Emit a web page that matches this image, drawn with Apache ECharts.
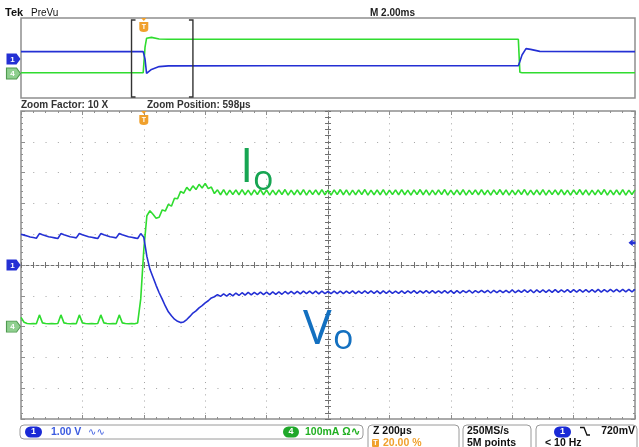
<!DOCTYPE html>
<html><head><meta charset="utf-8">
<script src="https://cdn.jsdelivr.net/npm/echarts@6/dist/echarts.min.js"></script>
<style>html,body{margin:0;padding:0;background:#fff}#c{width:639px;height:447px}</style>
</head><body><div id="c"></div>
<script>
// ---------- DATA ----------
// Zoom window: samples every 10 µs, starting 400 µs before the trigger
const mainStartUs = -400;
const mainStepUs = 10;
// Channel 1 (Vo), volts, 1.00 V/div
const ch1Volts = [
  1.00,0.97,0.94,0.91,0.89,0.87,1.02,0.98,0.95,0.92,
  0.90,0.88,0.86,1.02,0.98,0.95,0.92,0.90,0.88,1.02,
  0.98,0.95,0.92,0.90,0.88,0.86,1.02,0.98,0.95,0.92,
  0.90,0.88,1.02,0.98,0.95,0.92,0.90,0.88,0.86,1.02,
  0.90,0.28,-0.14,-0.40,-0.66,-0.90,-1.11,-1.33,-1.52,-1.65,
  -1.76,-1.83,-1.87,-1.85,-1.77,-1.67,-1.56,-1.49,-1.39,-1.32,
  -1.23,-1.16,-1.07,-1.03,
  -0.96,-1.02,-0.94,-1.01,-0.93,-1.00,-0.91,-0.99,-0.90,-0.98,
  -0.89,-0.97,-0.89,-0.96,-0.88,-0.96,-0.88,-0.96,-0.87,-0.95,
  -0.87,-0.95,-0.86,-0.94,-0.86,-0.94,-0.86,-0.94,-0.85,-0.93,
  -0.85,-0.93,-0.85,-0.94,-0.85,-0.93,-0.86,-0.93,-0.85,-0.93,
  -0.85,-0.93,-0.85,-0.92,-0.84,-0.93,-0.85,-0.92,-0.84,-0.92,
  -0.84,-0.92,-0.84,-0.93,-0.84,-0.92,-0.84,-0.92,-0.85,-0.92,
  -0.84,-0.92,-0.84,-0.91,-0.83,-0.92,-0.84,-0.91,-0.83,-0.91,
  -0.83,-0.91,-0.84,-0.91,-0.83,-0.91,-0.83,-0.92,-0.83,-0.91,
  -0.83,-0.90,-0.82,-0.91,-0.83,-0.90,-0.82,-0.90,-0.82,-0.91,
  -0.82,-0.90,-0.82,-0.90,-0.82,-0.90,-0.81,-0.90,-0.82,-0.89,
  -0.81,-0.89,-0.81,-0.90,-0.81,-0.89,-0.81,-0.89,-0.81,-0.89,
  -0.80,-0.89,-0.81,-0.88,-0.80,-0.89,-0.80,-0.88,-0.80,-0.88,
  -0.80,-0.88,-0.80,-0.88,-0.79,-0.88,-0.80,-0.87,-0.79,-0.87,
  -0.79,-0.87,-0.79,-0.87,-0.79,-0.87,-0.79
];
// Channel 4 (Io), milliamps, 100 mA/div
const ch4MilliAmps = [
  30,14,10,9,10,9,38,12,10,9,
  10,9,10,38,12,10,9,10,9,38,
  12,10,9,10,9,10,38,12,10,9,
  10,9,38,12,10,9,10,9,12,90,
  250,360,376,365,352,355,379,375,397,391,
  417,415,439,433,452,441,457,445,462,450,
  465,448,453,432,
  444,428,445,427,443,429,444,428,445,428,
  443,427,444,429,445,428,444,427,443,428,
  444,429,445,427,443,428,444,428,445,427,
  443,429,444,428,445,428,443,427,444,429,
  445,428,444,427,443,428,444,429,445,427,
  443,428,444,428,445,427,443,429,444,428,
  445,428,443,427,444,429,445,428,444,427,
  443,428,444,429,445,427,443,428,444,428,
  445,427,443,429,444,428,445,428,443,427,
  444,429,445,428,444,427,443,428,444,429,
  445,427,443,428,444,428,445,427,443,429,
  444,428,445,428,443,427,444,429,445,428,
  444,427,443,428,444,429,445,427,443,428,
  444,428,445,427,443,429,444
];
// Preview (whole record, 2.00 ms/div)
const previewTimeMs = [-4.0,-3.0,-2.0,-1.0,-0.02,0.04,0.09,0.13,0.25,0.5,0.8,4.0,8.0,12.2,12.25,12.32,12.45,12.6,12.9,16.0];
const previewCh1Volts = [0.92,0.92,0.92,0.92,0.92,0.0,-1.8,-1.9,-1.3,-0.95,-0.86,-0.85,-0.84,-0.84,-0.3,0.5,1.3,1.2,0.95,0.92];
const previewCh4MilliAmps = [10,10,10,10,10,330,440,448,452,432,428,428,428,428,15,10,10,10,10,10];
const zoomWindowMs = [-0.4, 1.6];
const triggerLevelV = 0.72;

// ---------- CHART ----------
const BLUE = '#2430d4', GREEN = '#2fdc2f', ORANGE = '#f0a02c', FRAME = '#8e8e8e', DOT = '#a3a3a3';
const mainBlue = ch1Volts.map((v, i) => [mainStartUs + i * mainStepUs, v]);
const mainGreen = ch4MilliAmps.map((v, i) => [mainStartUs + i * mainStepUs, v]);
const prevBlue = previewTimeMs.map((t, i) => [t, previewCh1Volts[i]]);
const prevGreen = previewTimeMs.map((t, i) => [t, previewCh4MilliAmps[i]]);

const chanSym = 'path://M0,0 L10,0 L14,5 L10,10 L0,10 Z';
const trigSym = 'path://M2,0 L8,0 L5,3 Z M0,4 L10,4 L10,11 Q10,14 5,14 Q0,14 0,11 Z';
const lvlSym = 'path://M0,5 L6,0 L6,3 L10,3 L10,7 L6,7 L6,10 Z';
function chanMark(coord, txt, fill, stroke) {
  return { coord, symbol: chanSym, symbolSize: [14, 11], symbolOffset: [-7.5, 0],
    itemStyle: { color: fill, borderColor: stroke, borderWidth: stroke ? 1 : 0 },
    label: { show: true, formatter: txt, color: '#fff', fontSize: 8, fontWeight: 'bold', offset: [-1, 0.5] } };
}
function trigMark(coord) {
  return { coord, symbol: trigSym, symbolSize: [9, 14], symbolOffset: [0, 7],
    itemStyle: { color: ORANGE },
    label: { show: true, formatter: 'T', color: '#fff', fontSize: 7, fontWeight: 'bold', offset: [0, 2.5] } };
}
const tickStyle = { color: FRAME, width: 1 };
function gratAxis(extra) {
  return Object.assign({ gridIndex: 1, type: 'value', min: -5, max: 5, interval: 1,
    axisLabel: { show: false }, splitLine: { show: false } }, extra);
}

const option = {
  animation: false,
  backgroundColor: '#fff',
  grid: [
    { left: 21, top: 18, width: 614, height: 80, show: true, borderColor: FRAME, borderWidth: 1.5 },
    { left: 21, top: 111, width: 614, height: 308, show: true, borderColor: FRAME, borderWidth: 1.5 }
  ],
  xAxis: [
    { gridIndex: 0, type: 'value', min: -4, max: 16, show: false },
    { gridIndex: 1, type: 'value', min: -400, max: 1600, interval: 200, show: false },
    gratAxis({ position: 'bottom', axisLine: { show: false, onZero: false },
      axisTick: { show: true, inside: true, length: 4, lineStyle: tickStyle },
      minorTick: { show: true, splitNumber: 5, length: 2, lineStyle: tickStyle },
      splitLine: { show: true, lineStyle: { color: DOT, width: 1, type: [1, 5.16] } } }),
    gratAxis({ position: 'top', axisLine: { show: false, onZero: false },
      axisTick: { show: true, inside: true, length: 4, lineStyle: tickStyle },
      minorTick: { show: true, splitNumber: 5, length: 2, lineStyle: tickStyle } }),
    gratAxis({ position: 'bottom', axisLine: { show: true, onZero: true, onZeroAxisIndex: 4, lineStyle: { color: '#707070', width: 1, type: [3, 2] } },
      axisTick: { show: true, inside: true, length: 3, lineStyle: { color: '#707070' } },
      minorTick: { show: true, splitNumber: 5, length: 3, lineStyle: { color: '#707070' } } }),
    gratAxis({ position: 'bottom', axisLine: { show: false, onZero: true, onZeroAxisIndex: 4 },
      axisTick: { show: true, inside: false, length: 3, lineStyle: { color: '#707070' } },
      minorTick: { show: true, splitNumber: 5, length: 3, lineStyle: { color: '#707070' } } })
  ],
  yAxis: [
    { gridIndex: 0, type: 'value', min: -4.875, max: 5.125, show: false },
    { gridIndex: 0, type: 'value', min: -306, max: 694, show: false },
    { gridIndex: 1, type: 'value', min: -5, max: 5, show: false },
    { gridIndex: 1, type: 'value', min: -300, max: 700, show: false },
    gratAxis({ position: 'left', axisLine: { show: false, onZero: false },
      axisTick: { show: true, inside: true, length: 4, lineStyle: tickStyle },
      minorTick: { show: true, splitNumber: 5, length: 2, lineStyle: tickStyle },
      splitLine: { show: true, lineStyle: { color: DOT, width: 1, type: [1, 11.28] } } }),
    gratAxis({ position: 'right', axisLine: { show: false, onZero: false },
      axisTick: { show: true, inside: true, length: 4, lineStyle: tickStyle },
      minorTick: { show: true, splitNumber: 5, length: 2, lineStyle: tickStyle } }),
    gratAxis({ position: 'left', axisLine: { show: true, onZero: true, onZeroAxisIndex: 2, lineStyle: { color: '#707070', width: 1, type: [3, 2] } },
      axisTick: { show: true, inside: true, length: 3, lineStyle: { color: '#707070' } },
      minorTick: { show: true, splitNumber: 5, length: 3, lineStyle: { color: '#707070' } } }),
    gratAxis({ position: 'left', axisLine: { show: false, onZero: true, onZeroAxisIndex: 2 },
      axisTick: { show: true, inside: false, length: 3, lineStyle: { color: '#707070' } },
      minorTick: { show: true, splitNumber: 5, length: 3, lineStyle: { color: '#707070' } } })
  ],
  series: [
    { type: 'line', xAxisIndex: 0, yAxisIndex: 1, data: prevGreen, showSymbol: false, z: 3,
      lineStyle: { color: GREEN, width: 1.6 },
      markPoint: { silent: true, data: [chanMark([-4, 0], '4', '#8fcf8f', '#4f9a4f')] } },
    { type: 'line', xAxisIndex: 0, yAxisIndex: 0, data: prevBlue, showSymbol: false, z: 3,
      lineStyle: { color: BLUE, width: 1.6 },
      markPoint: { silent: true, data: [chanMark([-4, 0], '1', BLUE), trigMark([0, 5.125])] } },
    { type: 'custom', xAxisIndex: 0, yAxisIndex: 0, data: [zoomWindowMs], z: 4, silent: true,
      renderItem: function (params, api) {
        const x0 = api.coord([api.value(0), 0])[0];
        const x1 = api.coord([api.value(1), 0])[0];
        const cs = params.coordSys, top = cs.y + 2, bot = cs.y + cs.height - 1;
        const st = { stroke: '#333', lineWidth: 1.4, fill: null };
        return { type: 'group', children: [
          { type: 'polyline', shape: { points: [[x0 + 4, top], [x0, top], [x0, bot], [x0 + 4, bot]] }, style: st },
          { type: 'polyline', shape: { points: [[x1 - 4, top], [x1, top], [x1, bot], [x1 - 4, bot]] }, style: st }
        ] };
      } },
    { type: 'line', xAxisIndex: 1, yAxisIndex: 3, data: mainGreen, showSymbol: false, z: 3,
      lineStyle: { color: GREEN, width: 1.6 },
      markPoint: { silent: true, data: [chanMark([-400, 0], '4', '#8fcf8f', '#4f9a4f')] } },
    { type: 'line', xAxisIndex: 1, yAxisIndex: 2, data: mainBlue, showSymbol: false, z: 3,
      lineStyle: { color: BLUE, width: 1.6 },
      markPoint: { silent: true, data: [
        chanMark([-400, 0], '1', BLUE), trigMark([0, 5]),
        { coord: [1600, triggerLevelV], symbol: lvlSym, symbolSize: [7, 7], symbolOffset: [-3, 0], itemStyle: { color: BLUE }, label: { show: false } }
      ] } }
  ],
  graphic: []
};

function txt(x, y, text, font, fill, align) {
  return { type: 'text', x, y, silent: true, z: 10,
    style: { text, font, fill, textAlign: align || 'left', textVerticalAlign: 'middle', align: align || 'left', verticalAlign: 'middle' } };
}
function box(x, y, w, h, r, stroke, fill) {
  return { type: 'rect', silent: true, z: 9, shape: { x, y, width: w, height: h, r }, style: { stroke: stroke || null, fill: fill || 'transparent', lineWidth: 1 } };
}
const HF = '"Liberation Sans", Arial, sans-serif';
const g = option.graphic;
g.push(txt(5, 13, 'Tek', 'bold 11px ' + HF, '#111'));
g.push(txt(31, 13, 'PreVu', '10px ' + HF, '#111'));
g.push(txt(370, 13, 'M 2.00ms', 'bold 10px ' + HF, '#222'));
g.push(txt(21, 105, 'Zoom Factor: 10 X', 'bold 10px ' + HF, '#333'));
g.push(txt(147, 105, 'Zoom Position: 598µs', 'bold 10px ' + HF, '#333'));
// trace labels
const LF = '"Open Sans", "Liberation Sans", sans-serif';
g.push(txt(240, 168, 'I', '48px ' + LF, '#17a552'));
g.push(txt(253, 180, 'o', '34px ' + LF, '#17a552'));
g.push(txt(303, 330, 'V', '48px ' + LF, '#1370c0'));
g.push(txt(333, 339, 'o', '34px ' + LF, '#1370c0'));
// status bar
const SF = 'bold 10.5px ' + HF;
g.push(box(20, 425, 343, 14, 4, '#9a9a9a'));
g.push(box(25, 426.5, 17, 11, 5.5, null, '#1a2ad6'));
g.push(txt(33.5, 432, '1', 'bold 9px ' + HF, '#fff', 'center'));
g.push(txt(51, 432, '1.00 V', SF, '#3b5be0'));
g.push(txt(88, 432, '∿∿', '10px "DejaVu Sans"', '#3b5be0'));
g.push(box(283, 426.5, 16, 11, 5.5, null, '#1fa82a'));
g.push(txt(291, 432, '4', 'bold 9px ' + HF, '#fff', 'center'));
g.push(txt(305, 432, '100mA Ω∿', SF, '#22b022'));
g.push(box(368, 425, 91, 26, 4, '#9a9a9a'));
g.push(txt(373, 431.5, 'Z 200µs', SF, '#111'));
g.push(box(372, 439, 7, 8, 1, null, ORANGE));
g.push(txt(375.5, 443, 'T', 'bold 7px ' + HF, '#fff', 'center'));
g.push(txt(383, 443, '20.00 %', SF, ORANGE));
g.push(box(463, 425, 68, 26, 4, '#9a9a9a'));
g.push(txt(467, 431.5, '250MS/s', SF, '#111'));
g.push(txt(467, 443, '5M points', SF, '#111'));
g.push(box(536, 425, 101, 26, 4, '#9a9a9a'));
g.push(box(554, 426.5, 17, 11, 5.5, null, '#1a2ad6'));
g.push(txt(562.5, 432, '1', 'bold 9px ' + HF, '#fff', 'center'));
g.push({ type: 'polyline', silent: true, z: 10, shape: { points: [[580, 427.5], [584, 427.5], [587, 435], [590, 435]] }, style: { stroke: '#111', lineWidth: 1.3, fill: null } });
g.push(txt(635, 431.5, '720mV', SF, '#111', 'right'));
g.push(txt(545, 443, '< 10 Hz', SF, '#111'));

const chart = echarts.init(document.getElementById('c'), null, { renderer: 'canvas' });
chart.setOption(option);
</script>
</body></html>
